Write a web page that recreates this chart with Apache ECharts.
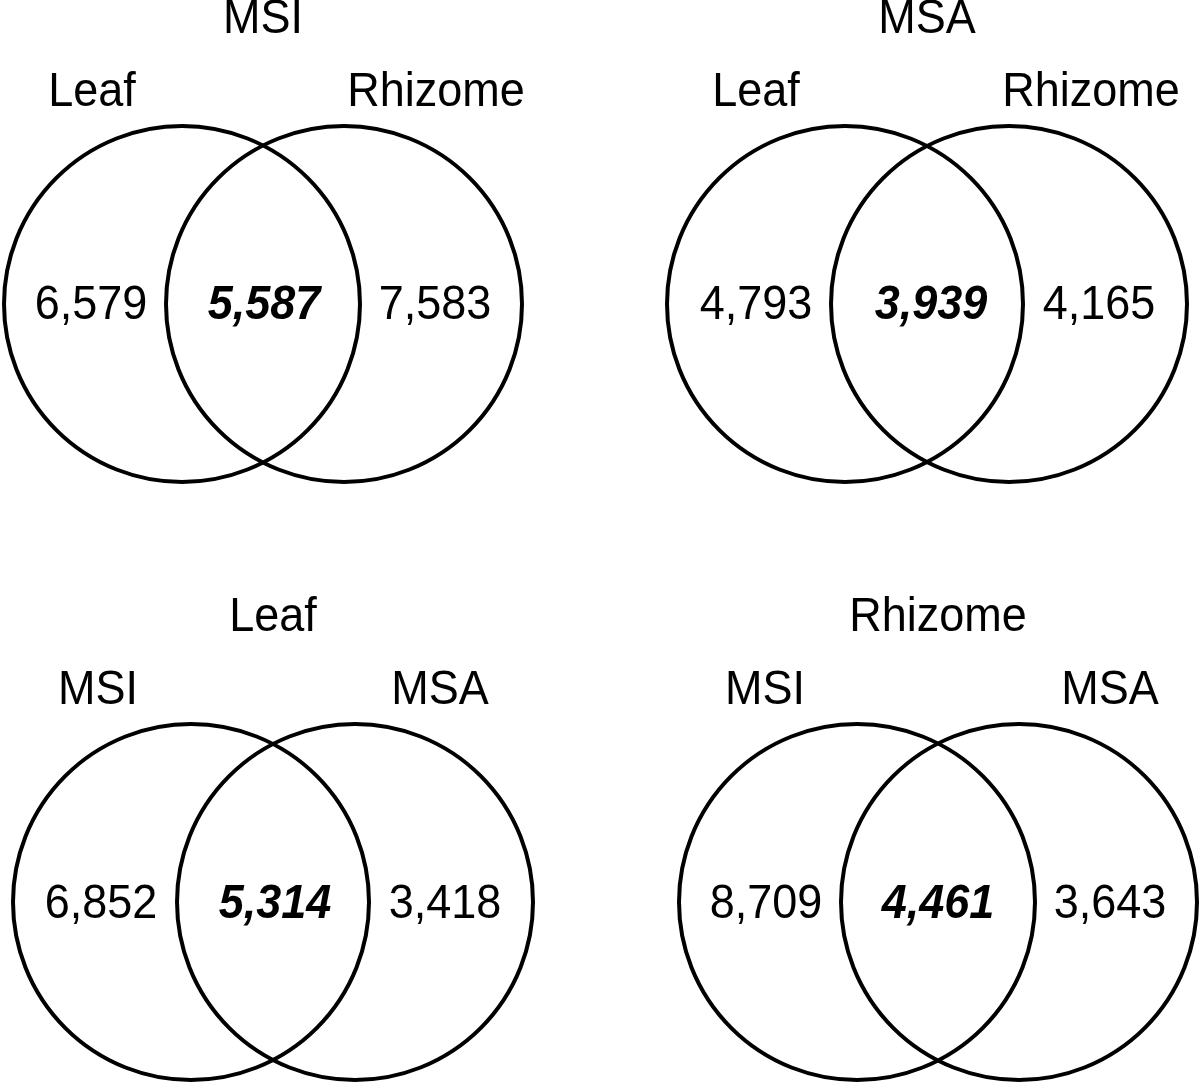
<!DOCTYPE html>
<html>
<head>
<meta charset="utf-8">
<script src="https://cdn.jsdelivr.net/npm/echarts@6/dist/echarts.min.js"></script>
<style>html,body{margin:0;padding:0;background:#fff}#c{width:1200px;height:1085px}</style>
</head>
<body>
<div id="c"></div>
<script>
// ---- data ----
const panelTitles = ['MSI', 'MSA', 'Leaf', 'Rhizome'];
const leftSetNames = ['Leaf', 'Leaf', 'MSI', 'MSI'];
const rightSetNames = ['Rhizome', 'Rhizome', 'MSA', 'MSA'];
const leftOnly = [6579, 4793, 6852, 8709];
const shared = [5587, 3939, 5314, 4461];
const rightOnly = [7583, 4165, 3418, 3643];

// ---- layout (pixel-space of a hidden 0..1200 x 0..1085 coordinate system) ----
const layout = [
  { mx: 263, cy: 304, half: 81, r: 178, titleY: 20, setY: 93, setL: 92, setR: 436, numL: 91, numM: 264, numR: 435, numY: 306 },
  { mx: 927, cy: 304, half: 82, r: 178, titleY: 20, setY: 93, setL: 756, setR: 1091, numL: 756, numM: 931, numR: 1099, numY: 306 },
  { mx: 273, cy: 902, half: 82, r: 178, titleY: 618, setY: 691, setL: 98, setR: 440, numL: 101, numM: 275, numR: 445, numY: 905 },
  { mx: 938, cy: 902, half: 81, r: 178, titleY: 618, setY: 691, setL: 765, setR: 1110, numL: 766, numM: 938, numR: 1110, numY: 905 }
];

const fmt = v => v.toLocaleString('en-US');
const FONT = '"Liberation Sans", Arial, Helvetica, sans-serif';
const FS = 45;

const chart = echarts.init(document.getElementById('c'), null, { renderer: 'canvas' });

function renderItem(params, api) {
  const i = api.value(0);
  const L = layout[i];
  const children = [];
  const rPx = api.size([L.r, 0])[0];
  [L.mx - L.half, L.mx + L.half].forEach(cx => {
    const p = api.coord([cx, L.cy]);
    children.push({
      type: 'circle',
      shape: { cx: p[0], cy: p[1], r: rPx },
      style: { fill: 'none', stroke: '#000', lineWidth: 4 }
    });
  });
  const txt = (x, y, s, bold) => {
    const p = api.coord([x, y]);
    children.push({
      type: 'text',
      x: p[0], y: p[1],
      scaleY: 1.06,
      style: {
        text: s, x: 0, y: 0, align: 'center', verticalAlign: 'middle',
        fill: '#000', font: (bold ? 'italic bold ' : '') + FS + 'px ' + FONT
      }
    });
  };
  txt(L.mx, L.titleY, panelTitles[i]);
  txt(L.setL, L.setY, leftSetNames[i]);
  txt(L.setR, L.setY, rightSetNames[i]);
  txt(L.numL, L.numY, fmt(leftOnly[i]));
  txt(L.numM, L.numY, fmt(shared[i]), true);
  txt(L.numR, L.numY, fmt(rightOnly[i]));
  return { type: 'group', children };
}

chart.setOption({
  animation: false,
  backgroundColor: '#fff',
  grid: { left: 0, top: 0, width: 1200, height: 1085 },
  xAxis: { type: 'value', min: 0, max: 1200, show: false },
  yAxis: { type: 'value', min: 0, max: 1085, inverse: true, show: false },
  series: [{
    type: 'custom',
    renderItem,
    data: panelTitles.map((t, i) => [i]),
    silent: true
  }]
});
</script>
</body>
</html>
